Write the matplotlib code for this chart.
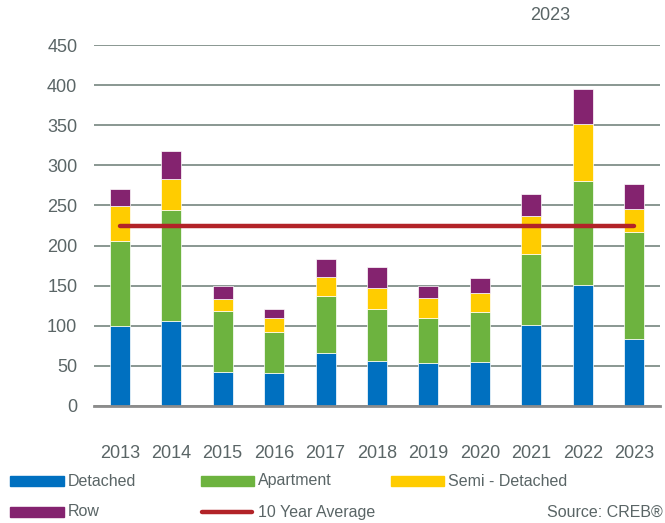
import matplotlib
matplotlib.use("Agg")
import matplotlib.pyplot as plt
from matplotlib.patches import Rectangle
from matplotlib.lines import Line2D

plt.rcParams['font.family'] = ['Liberation Sans', 'DejaVu Sans']

years = ["2013", "2014", "2015", "2016", "2017", "2018", "2019", "2020", "2021", "2022", "2023"]
detached = [100, 106, 43, 41, 66, 56, 53, 55, 101, 151, 84]
apartment = [106, 138, 75, 51, 71, 65, 57, 62, 89, 130, 133]
semi = [43, 39, 16, 18, 24, 26, 25, 24, 47, 71, 28]
row = [22, 35, 16, 11, 22, 26, 15, 19, 27, 43, 32]
ten_year_avg = 224
yticks = [0, 50, 100, 150, 200, 250, 300, 350, 400, 450]

c_det = "#0070C0"
c_apt = "#6DB33F"
c_semi = "#FFCC00"
c_row = "#84236F"
c_avg = "#B22328"
txt = "#5A6566"

W, H = 665, 523
fig = plt.figure(figsize=(W / 100, H / 100), dpi=100)
ax = fig.add_axes([94 / W, 1 - 406 / H, (660 - 94) / W, (406 - 45) / H])

x = list(range(len(years)))
bw = 0.39
b1 = detached
b2 = [a + b for a, b in zip(b1, apartment)]
b3 = [a + b for a, b in zip(b2, semi)]
kw = dict(width=bw, edgecolor="white", linewidth=0.5, zorder=3)
ax.bar(x, detached, color=c_det, **kw)
ax.bar(x, apartment, bottom=b1, color=c_apt, **kw)
ax.bar(x, semi, bottom=b2, color=c_semi, **kw)
ax.bar(x, row, bottom=b3, color=c_row, **kw)

ax.plot([x[0], x[-1]], [ten_year_avg, ten_year_avg], color=c_avg, lw=3.2,
        solid_capstyle="round", zorder=4)

ax.set_xlim(-0.5, len(years) - 0.5)
ax.set_ylim(0, 450)
ax.set_yticks(yticks)
ax.set_yticklabels([str(v) for v in yticks])
ax.set_xticks(x)
ax.set_xticklabels(years)
for s in ["left", "right", "top"]:
    ax.spines[s].set_visible(False)
ax.spines["bottom"].set_color("#8C8C8C")
ax.spines["bottom"].set_linewidth(2)
ax.spines["bottom"].set_zorder(5)
ax.yaxis.grid(True, color="#76857F", lw=1.2, zorder=0)
ax.set_axisbelow(True)
ax.tick_params(axis="both", length=0, labelsize=13, colors=txt)
ax.tick_params(axis="y", pad=12)
ax.tick_params(axis="x", pad=28)

fig.text(550 / W, 1 - 15 / H, "2023", fontsize=13, color=txt, ha="center", va="center")

def fx(px):
    return px / W

def fy(py):
    return 1 - py / H

legend = [
    (10, 64, 481, "Detached", c_det, "patch"),
    (201, 254, 481, "Apartment", c_apt, "patch"),
    (391, 444, 481, "Semi - Detached", c_semi, "patch"),
    (10, 64, 512, "Row", c_row, "patch"),
    (200, 254, 512, "10 Year Average", c_avg, "line"),
]
for x0, x1, yc, label, col, kind in legend:
    if kind == "patch":
        fig.add_artist(Rectangle((fx(x0), fy(yc + 5)), fx(x1) - fx(x0), 10 / H,
                                 transform=fig.transFigure, color=col))
    else:
        fig.add_artist(Line2D([fx(x0 + 2), fx(x1 - 2)], [fy(yc), fy(yc)],
                              transform=fig.transFigure, color=col, lw=3.2,
                              solid_capstyle="round"))
    fig.text(fx(x1 + 4), fy(yc), label, fontsize=11.5, color=txt, ha="left", va="center")

fig.text(fx(663), fy(512), "Source: CREB®", fontsize=11.5, color=txt, ha="right", va="center")

fig.savefig("out.png", dpi=100)
